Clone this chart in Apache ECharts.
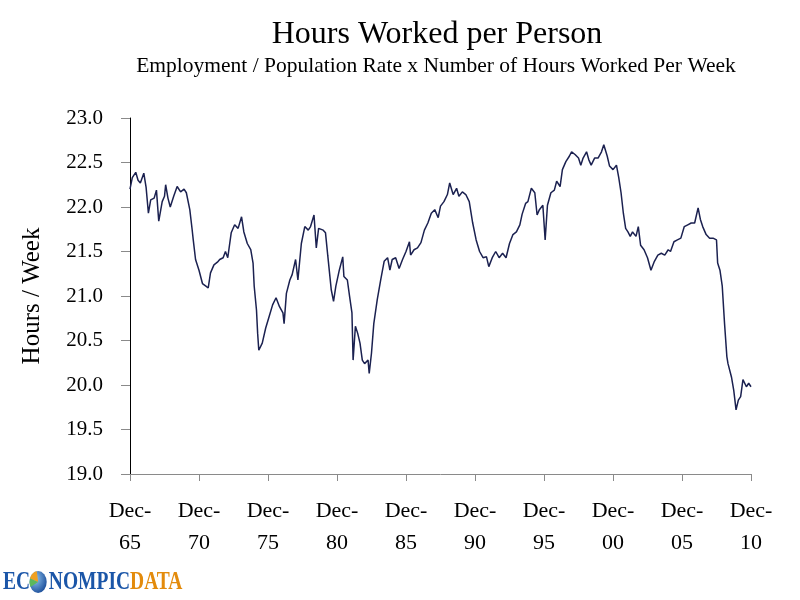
<!DOCTYPE html>
<html><head><meta charset="utf-8">
<script src="https://cdn.jsdelivr.net/npm/echarts@6/dist/echarts.min.js"></script>
<style>html,body{margin:0;padding:0;background:#fff}#c{width:800px;height:600px}</style>
</head><body><div id="c"></div>
<script>
const titleText = 'Hours Worked per Person';
const subtitleText = 'Employment / Population Rate x Number of Hours Worked Per Week';
const yAxisName = 'Hours / Week';
const xTickLabels = ['Dec-\n65','Dec-\n70','Dec-\n75','Dec-\n80','Dec-\n85','Dec-\n90','Dec-\n95','Dec-\n00','Dec-\n05','Dec-\n10'];

// months elapsed since December 1965
const monthsSinceDec1965 = [
  0,2,5,7,9,12,14,16,18,21,23,25,28,30,31,33,35,38,41,44,47,49,52,54,55,57,60,63,66,68,
  70,73,76,78,79,81,83,85,88,91,94,97,99,102,105,107,108,110,111,112,115,118,121,124,127,130,133,134,136,139,
  141,144,146,149,152,155,157,160,162,164,168,170,172,175,177,179,182,185,186,189,191,193,194,196,198,200,202,204,207,208,
  210,212,215,218,221,224,226,228,231,234,237,240,243,244,247,250,253,256,259,262,265,268,270,273,276,278,281,284,286,289,
  292,295,298,301,304,307,310,312,315,318,321,324,327,330,333,336,339,341,344,346,349,352,354,356,359,361,363,366,369,371,
  374,376,379,382,384,387,390,392,394,397,399,401,404,407,410,412,413,415,417,420,423,425,427,429,431,433,435,437,440,442,
  444,447,450,453,456,459,462,465,468,470,473,476,479,482,485,488,491,494,496,498,501,504,507,510,511,513,515,517,519,520,
  523,525,527,529,531,533,536,538,540
];
const hoursPerWeek = [
  22.20,22.33,22.39,22.30,22.27,22.38,22.22,21.93,22.08,22.10,22.19,21.84,22.06,22.12,22.25,22.10,22.00,22.12,22.23,22.17,22.20,22.16,21.97,21.75,21.63,21.41,21.29,21.14,21.11,21.09,
  21.26,21.35,21.38,21.41,21.41,21.43,21.50,21.43,21.71,21.80,21.76,21.89,21.72,21.59,21.52,21.37,21.11,20.84,20.58,20.39,20.47,20.64,20.77,20.90,20.98,20.88,20.81,20.69,21.03,21.18,
  21.24,21.41,21.18,21.59,21.78,21.74,21.78,21.91,21.54,21.76,21.74,21.71,21.45,21.07,20.94,21.11,21.29,21.44,21.22,21.18,20.99,20.81,20.28,20.66,20.58,20.47,20.28,20.24,20.28,20.13,
  20.36,20.69,20.96,21.18,21.39,21.43,21.29,21.41,21.43,21.31,21.41,21.50,21.61,21.46,21.52,21.54,21.60,21.74,21.82,21.93,21.97,21.88,22.01,22.06,22.14,22.27,22.14,22.21,22.12,22.17,
  22.14,22.06,21.82,21.63,21.50,21.43,21.44,21.33,21.43,21.50,21.43,21.48,21.43,21.59,21.69,21.72,21.80,21.92,22.04,22.06,22.21,22.16,21.91,21.97,22.02,21.63,22.02,22.16,22.19,22.29,
  22.23,22.42,22.51,22.57,22.62,22.59,22.55,22.47,22.55,22.62,22.53,22.47,22.55,22.55,22.62,22.70,22.72,22.57,22.46,22.42,22.47,22.33,22.16,21.93,21.76,21.72,21.67,21.72,21.67,21.78,
  21.57,21.52,21.43,21.29,21.39,21.46,21.48,21.46,21.52,21.50,21.61,21.63,21.65,21.78,21.80,21.82,21.82,21.99,21.86,21.78,21.69,21.65,21.65,21.63,21.37,21.29,21.11,20.69,20.32,20.24,
  20.09,19.94,19.72,19.83,19.87,20.06,19.98,20.02,19.98
];

const seriesData = monthsSinceDec1965.map((m, i) => [m, hoursPerWeek[i]]);
const serif = "'Liberation Serif', 'DejaVu Serif', serif";

const chart = echarts.init(document.getElementById('c'), null, { renderer: 'canvas' });
chart.setOption({
  animation: false,
  backgroundColor: '#ffffff',
  grid: { left: 130, right: 49, top: 118, bottom: 126, containLabel: false },
  xAxis: {
    type: 'value', min: 0, max: 540, interval: 60,
    axisLine: { show: true, lineStyle: { color: '#8a8a8a', width: 1 } },
    axisTick: { show: true, length: 7, lineStyle: { color: '#8a8a8a' } },
    splitLine: { show: false },
    axisLabel: {
      formatter: v => xTickLabels[Math.round(v / 60)],
      fontFamily: serif, fontSize: 22, lineHeight: 32, color: '#000', margin: 21
    }
  },
  yAxis: {
    type: 'value', min: 19, max: 23, interval: 0.5,
    name: yAxisName, nameLocation: 'middle', nameGap: 85, nameRotate: 90,
    nameTextStyle: { fontFamily: serif, fontSize: 25, color: '#000' },
    axisLine: { show: true, lineStyle: { color: '#000', width: 1 } },
    axisTick: { show: true, length: 9, lineStyle: { color: '#8a8a8a' } },
    splitLine: { show: false },
    axisLabel: {
      formatter: v => v.toFixed(1),
      fontFamily: serif, fontSize: 21, color: '#000', margin: 27
    }
  },
  series: [{
    type: 'line', data: seriesData, showSymbol: false, smooth: false,
    lineStyle: { color: '#1b2150', width: 1.5 }
  }],
  graphic: [
    { type: 'text', x: 437, y: 19, style: { text: titleText, textAlign: 'center', fontFamily: serif, fontSize: 32, fill: '#000' } },
    { type: 'text', x: 436, y: 55, style: { text: subtitleText, textAlign: 'center', fontFamily: serif, fontSize: 21.5, fill: '#000' } },
    {
      type: 'group', x: 3, y: 570, scaleX: 0.78,
      children: [
        { type: 'text', x: 0, y: 0, style: {
            text: '{a|EC}{g|}{a|NOMPIC}{b|DATA}',
            rich: {
              a: { fontFamily: serif, fontWeight: 'bold', fontSize: 25, fill: '#1b56a8', color: '#1b56a8' },
              g: { width: 24, fontSize: 25 },
              b: { fontFamily: serif, fontWeight: 'bold', fontSize: 25, fill: '#e38b0c', color: '#e38b0c' }
            }
        } },
        { type: 'circle', shape: { cx: 45, cy: 12, r: 11 }, style: {
            fill: new echarts.graphic.RadialGradient(0.35, 0.35, 0.8, [
              { offset: 0, color: '#8fc4f0' }, { offset: 1, color: '#0d3f8f' }
            ])
        } },
        { type: 'sector', shape: { cx: 45, cy: 12, r: 11, r0: 0, startAngle: Math.PI * 1.1, endAngle: Math.PI * 1.45 }, style: { fill: '#f0a020' } },
        { type: 'sector', shape: { cx: 45, cy: 12, r: 11, r0: 0, startAngle: Math.PI * 0.85, endAngle: Math.PI * 1.1 }, style: { fill: '#5cb85c' } }
      ]
    }
  ]
});
</script>
</body></html>
